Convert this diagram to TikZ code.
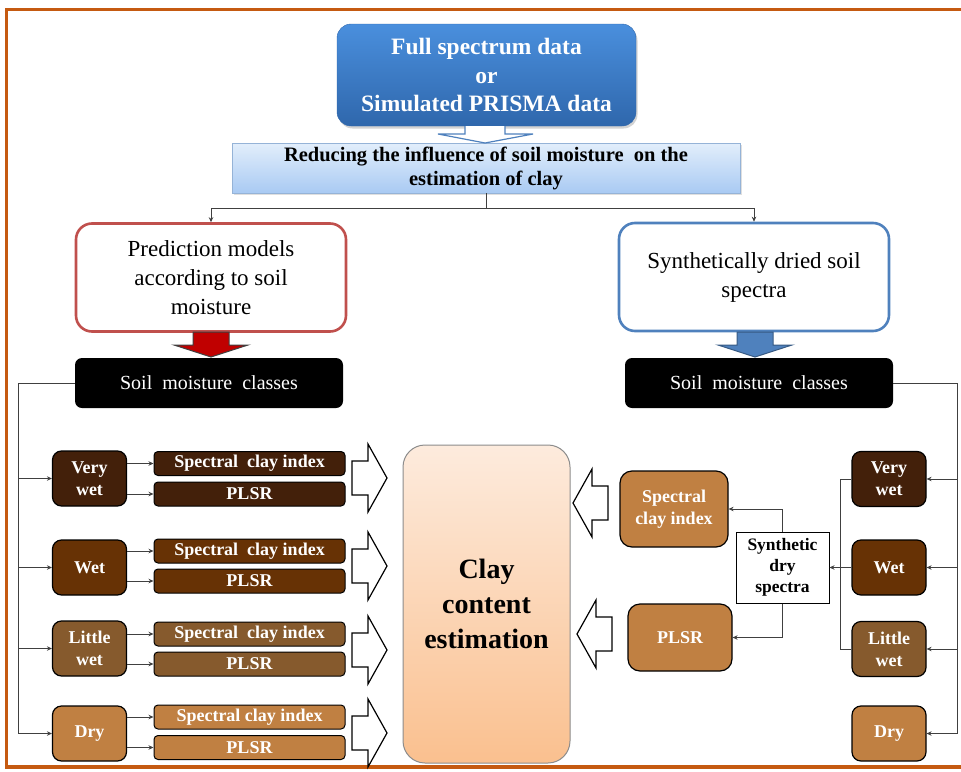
\documentclass[tikz,border=0pt]{standalone}
\usepackage{fontspec}
\setmainfont{Liberation Serif}
\usetikzlibrary{arrows.meta}
\usetikzlibrary{positioning, shadows}

\definecolor{framecol}{HTML}{C55A11}
\definecolor{srctop}{HTML}{4A8FDD}
\definecolor{srcbot}{HTML}{2F67AC}
\definecolor{redtop}{HTML}{E2EEFB}
\definecolor{redbot}{HTML}{A9CAF3}
\definecolor{lineblue}{HTML}{4F81BD}
\definecolor{predred}{HTML}{C0504D}
\definecolor{arrred}{HTML}{C00000}
\definecolor{linegray}{HTML}{404040}
\definecolor{vwet}{HTML}{43200A}
\definecolor{wet}{HTML}{673205}
\definecolor{lwet}{HTML}{865A2D}
\definecolor{dry}{HTML}{C08042}
\definecolor{claytop}{HTML}{FDEBDD}
\definecolor{claybot}{HTML}{FAC08F}

\tikzset{
srcbox/.style = { rectangle, rounded corners = 14pt, draw = srcbot, top color = srctop, bottom color = srcbot, text = white, align = center, minimum width = 299pt, minimum height = 102pt, font = \fontsize{23.5}{28.5}\selectfont\bfseries, drop shadow = {opacity = 0.35, shadow xshift = 1.5pt, shadow yshift = -2.5pt} },
reducebox/.style = { rectangle, draw = lineblue!60, top color = redtop, bottom color = redbot, align = center, minimum width = 508pt, minimum height = 50pt, inner sep = 0pt, font = \fontsize{20.5}{24}\selectfont\bfseries, drop shadow = {opacity = 0.25, shadow xshift = 1.5pt, shadow yshift = -1.5pt} },
approach/.style = { rectangle, rounded corners = 16pt, draw = #1, line width = 2.6pt, fill = white, align = center, minimum width = 270pt, minimum height = 108pt, font = \fontsize{23}{29}\selectfont },
classes/.style = { rectangle, rounded corners = 7pt, fill = black, text = white, minimum width = 268pt, minimum height = 50pt, font = \fontsize{20}{24}\selectfont },
moist/.style = { rectangle, rounded corners = 9pt, draw = black, line width = 1.2pt, fill = #1, text = white, align = center, minimum width = 74pt, minimum height = 55pt, inner sep = 0pt, font = \fontsize{18}{22}\selectfont\bfseries },
method/.style = { rectangle, rounded corners = 4pt, draw = black, line width = 1pt, fill = #1, text = white, minimum width = 191pt, minimum height = 24pt, inner sep = 0pt, font = \fontsize{18}{22}\selectfont\bfseries },
model/.style = { rectangle, rounded corners = 12pt, draw = black, line width = 1.2pt, fill = dry, text = white, align = center, inner sep = 0pt, font = \fontsize{18}{22}\selectfont\bfseries },
synthbox/.style = { rectangle, draw = black, line width = 1pt, fill = white, align = center, minimum width = 93pt, minimum height = 71pt, inner sep = 0pt, font = \fontsize{17.5}{21}\selectfont\bfseries },
claybox/.style = { rectangle, rounded corners = 22pt, draw = black!45, line width = 1pt, top color = claytop, bottom color = claybot, align = center, minimum width = 167pt, minimum height = 318pt, font = \fontsize{28}{35}\selectfont\bfseries },
link/.style = { draw = linegray, line width = 0.8pt },
arr/.style = { link, -{Stealth[length = 5pt, width = 4.5pt]} },
}
\tikzset{
pics/right hollow/.style = {
        code = {
        \path[draw = black, fill = white, line width = 1.2pt] (0, -17) -- (16, -17) -- (16, -34) -- (35, 0) -- (16, 34) -- (16, 17) -- (0, 17) -- cycle;
        }
    },
pics/left hollow/.style = {
        code = {
        \path[draw = black, fill = white, line width = 1.2pt] (0, -17) -- (-16, -17) -- (-16, -34) -- (-35, 0) -- (-16, 34) -- (-16, 17) -- (0, 17) -- cycle;
        }
    },
pics/open down/.style = {
        code = {
        \path[draw = lineblue, fill = white, line width = 1.2pt] (-20, 0) -- (-20, 8) -- (-47, 8) -- (0, 17) -- (48, 8) -- (20, 8) -- (20, 0);
        }
    },
pics/down block/.style args = {#1, #2}{
        code = {
        \path[draw = #2, fill = #1, line width = 1pt] (-18, 0) -- (-18, 13) -- (-37, 13) -- (0, 25) -- (37, 13) -- (18, 13) -- (18, 0) -- cycle;
        }
    }
}

\begin{document}
\begin{tikzpicture}[x = 1pt, y = -1pt]
    \useasboundingbox (0, 0) rectangle (961, 771);
    \draw[framecol, line width = 3.5pt] (6.5, 9.5) rectangle (980, 767);

    % source data and the common step
    \node[srcbox] (src) at (486.5, 75) {Full spectrum data\\or\\Simulated PRISMA data};
    \node[reducebox] (reduce) at (486, 168) {Reducing the influence of soil moisture~ on the\\estimation of clay};
    \draw (485, 126) pic{open down};

    % two approaches
    \node[approach = predred] (pred) at (211, 277.5) {Prediction models\\according to soil\\moisture};
    \node[approach = lineblue] (dried) at (754, 277) {Synthetically dried soil\\spectra};
    \draw[link] (reduce.south) -- ++(0, 15) coordinate (split);
    \draw[arr] (split) -| (pred.north);
    \draw[arr] (split) -| (dried.north);

    \draw (211, 332) pic{down block = {arrred, black!75}};
    \draw (755, 332) pic{down block = {lineblue, lineblue!70!black}};
    \node[classes] (clsL) at (209, 383) {Soil~ moisture~ classes};
    \node[classes] (clsR) at (759, 383) {Soil~ moisture~ classes};

    % left branch: one model per moisture class
    \node[moist = vwet] (vwetL) at (89.5, 478.5) {Very\\wet};
    \node[moist = wet] (wetL) at (89.5, 567.5) {Wet};
    \node[moist = lwet] (lwetL) at (89.5, 648.5) {Little\\wet};
    \node[moist = dry] (dryL) at (89.5, 733.5) {Dry};

    \node[method = vwet] (sciA) at (249.5, 463.5) {Spectral~ clay index};
    \node[method = vwet] (plsA) at (249.5, 494) {PLSR};
    \node[method = wet] (sciB) at (249.5, 551) {Spectral~ clay index};
    \node[method = wet] (plsB) at (249.5, 581) {PLSR};
    \node[method = lwet] (sciC) at (249.5, 634) {Spectral~ clay index};
    \node[method = lwet] (plsC) at (249.5, 664) {PLSR};
    \node[method = dry] (sciD) at (249.5, 717) {Spectral clay index};
    \node[method = dry] (plsD) at (249.5, 747.5) {PLSR};

    \coordinate (busL) at (18, 383);
    \draw[link] (clsL.west) -- (busL) -- (busL |- dryL.west);
    \draw[arr] (busL |- vwetL.west) -- (vwetL.west);
    \draw[arr] (busL |- wetL.west) -- (wetL.west);
    \draw[arr] (busL |- lwetL.west) -- (lwetL.west);
    \draw[arr] (busL |- dryL.west) -- (dryL.west);

    \draw[arr] (vwetL.east |- sciA.west) -- (sciA.west);
    \draw[arr] (vwetL.east |- plsA.west) -- (plsA.west);
    \draw[arr] (wetL.east |- sciB.west) -- (sciB.west);
    \draw[arr] (wetL.east |- plsB.west) -- (plsB.west);
    \draw[arr] (lwetL.east |- sciC.west) -- (sciC.west);
    \draw[arr] (lwetL.east |- plsC.west) -- (plsC.west);
    \draw[arr] (dryL.east |- sciD.west) -- (sciD.west);
    \draw[arr] (dryL.east |- plsD.west) -- (plsD.west);

    \draw (352, 478) pic{right hollow};
    \draw (352, 566) pic{right hollow};
    \draw (352, 650) pic{right hollow};
    \draw (352, 733) pic{right hollow};

    % result
    \node[claybox] (clay) at (486.5, 604) {Clay\\content\\estimation};

    % right branch: spectra dried before modelling
    \node[moist = vwet] (vwetR) at (889, 479) {Very\\wet};
    \node[moist = wet] (wetR) at (889, 567.5) {Wet};
    \node[moist = lwet] (lwetR) at (889, 649) {Little\\wet};
    \node[moist = dry] (dryR) at (889, 733.5) {Dry};

    \node[synthbox] (synth) at (782.5, 567.5) {Synthetic\\dry\\spectra};
    \node[model, minimum width = 108pt, minimum height = 76pt] (sciR) at (674, 509) {Spectral\\clay index};
    \node[model, minimum width = 104pt, minimum height = 67pt] (plsR) at (680, 637.5) {PLSR};

    \coordinate (busR) at (957, 383);
    \draw[link] (clsR.east) -- (busR) -- (busR |- dryR.east);
    \draw[arr] (busR |- vwetR.east) -- (vwetR.east);
    \draw[arr] (busR |- wetR.east) -- (wetR.east);
    \draw[arr] (busR |- lwetR.east) -- (lwetR.east);
    \draw[arr] (busR |- dryR.east) -- (dryR.east);

    \coordinate (joinR) at (840, 479);
    \draw[link] (vwetR.west) -- (joinR) -- (joinR |- lwetR.west) -- (lwetR.west);
    \draw[arr] (wetR.west) -- (synth.east);
    \draw[arr] (synth.north) |- (sciR.east);
    \draw[arr] (synth.south) |- (plsR.east);

    \draw (608, 503) pic{left hollow};
    \draw (612, 634) pic{left hollow};
\end{tikzpicture}
\end{document}
